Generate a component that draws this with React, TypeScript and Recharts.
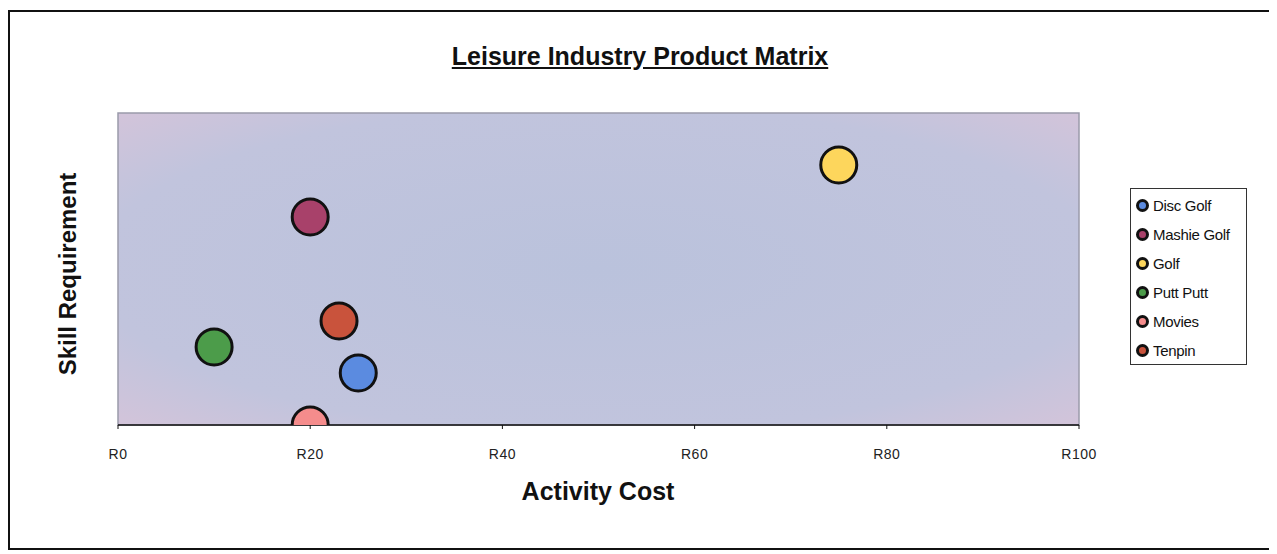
import React from 'react';
import {
  ScatterChart,
  Scatter,
  XAxis,
  YAxis,
  CartesianGrid,
  ReferenceArea,
} from 'recharts';

// products (cost in rand, skill on a 0-12 scale)
const products = ['Disc Golf', 'Mashie Golf', 'Golf', 'Putt Putt', 'Movies', 'Tenpin'];
const costs = [25, 20, 75, 10, 20, 23];
const skills = [2, 8, 10, 3, 0, 4];
const colors = ['#5b8be0', '#a8416a', '#fdd65c', '#4c9c4a', '#f58c8c', '#c9533c'];
const costTicks = [0, 20, 40, 60, 80, 100];

const font = '"Liberation Sans", Arial, sans-serif';

const Bubble = (props: any) => {
  const { cx, cy, fill } = props;
  if (cx == null || cy == null) return null;
  return <circle cx={cx} cy={cy} r={18} fill={fill} stroke="#111" strokeWidth={3} />;
};

const App = () => {
  return (
    <div
      style={{
        position: 'relative',
        width: 1260,
        height: 536,
        marginTop: 2,
        border: '2px solid #111',
        fontFamily: font,
        background: '#fff',
      }}
    >
      <div
        style={{
          position: 'absolute',
          top: 30,
          left: 0,
          width: 1260,
          textAlign: 'center',
          fontSize: 25,
          fontWeight: 'bold',
          textDecoration: 'underline',
          color: '#111',
        }}
      >
        Leisure Industry Product Matrix
      </div>

      <ScatterChart
        width={1260}
        height={536}
        margin={{ top: 101, right: 191, bottom: 93, left: 108 }}
      >
        <defs>
          <radialGradient id="plotBg" cx="50%" cy="50%" r="75%">
            <stop offset="0%" stopColor="#bac2dc" />
            <stop offset="70%" stopColor="#c1c4dd" />
            <stop offset="100%" stopColor="#d7c4d9" />
          </radialGradient>
        </defs>
        <CartesianGrid horizontal={false} vertical={false} fill="url(#plotBg)" />
        <XAxis
          type="number"
          dataKey="cost"
          domain={[0, 100]}
          ticks={costTicks}
          height={30}
          tickFormatter={(v) => `R${v}`}
          tick={{ fill: '#222', fontSize: 14, fontFamily: font, letterSpacing: 0.5 }}
          tickMargin={20}
          tickSize={4}
          axisLine={{ stroke: '#111', strokeWidth: 1.5 }}
          tickLine={{ stroke: '#111' }}
        />
        <YAxis type="number" dataKey="skill" domain={[0, 12]} hide allowDataOverflow />
        <ReferenceArea x1={0} x2={100} y1={0} y2={12} fill="none" stroke="#9a9aaa" strokeWidth={1.5} />
        {products.map((p, i) => (
          <Scatter
            key={p}
            name={p}
            data={[{ cost: costs[i], skill: skills[i] }]}
            fill={colors[i]}
            shape={<Bubble />}
            isAnimationActive={false}
          />
        ))}
      </ScatterChart>

      <div
        style={{
          position: 'absolute',
          left: 0,
          width: 1176,
          top: 465,
          textAlign: 'center',
          fontSize: 25,
          fontWeight: 'bold',
          color: '#111',
        }}
      >
        Activity Cost
      </div>

      <div
        style={{
          position: 'absolute',
          left: 58,
          top: 262,
          transform: 'translate(-50%, -50%) rotate(-90deg)',
          whiteSpace: 'nowrap',
          fontSize: 24,
          fontWeight: 'bold',
          color: '#111',
        }}
      >
        Skill Requirement
      </div>

      <div
        style={{
          position: 'absolute',
          left: 1120,
          top: 176,
          width: 117,
          height: 177,
          border: '1px solid #333',
          boxSizing: 'border-box',
          padding: '2px 0 0 5px',
          fontSize: 15,
          color: '#111',
        }}
      >
        {products.map((p, i) => (
          <div key={p} style={{ display: 'flex', alignItems: 'center', height: 29 }}>
            <svg width={13} height={13} style={{ marginRight: 4 }}>
              <circle cx={6.5} cy={6.5} r={5} fill={colors[i]} stroke="#111" strokeWidth={3} />
            </svg>
            <span style={{ letterSpacing: -0.3 }}>{p}</span>
          </div>
        ))}
      </div>
    </div>
  );
};

export default App;
